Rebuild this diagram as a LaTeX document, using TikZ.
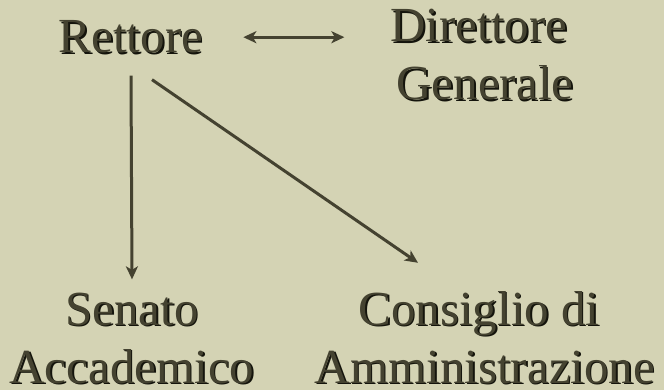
\documentclass[tikz,border=0pt]{standalone}
\usepackage{fontspec}
\setmainfont{Liberation Serif}
\usetikzlibrary{arrows.meta}

\definecolor{carta}{RGB}{212,211,180}
\definecolor{inchiostro}{RGB}{68,66,48}
\definecolor{ombra}{RGB}{20,20,12}

\tikzset{
  voce/.style={font=\fontsize{49}{58}\selectfont, align=center, anchor=base, inner sep=1pt, text=inchiostro},
  freccia/.style={-{Stealth[length=13pt,width=12pt,inset=3.5pt]}, line width=3pt, draw=inchiostro},
}

% text with a dark shadow behind it
\newcommand{\voce}[3]{%
  \node[voce, text=ombra] at ([shift={(1.5pt,-1.5pt)}]#2) {#3};
  \node[voce] (#1) at (#2) {#3};
}

\begin{document}
\begin{tikzpicture}[x=1pt, y=-1pt]
  % Paper background
  \fill[carta] (0,0) rectangle (664,390);
  \useasboundingbox (0,0) rectangle (664,390);

  % The four offices (base = last line)
  \voce{rett}{131,53}{Rettore}
  \voce{dir}{485,100}{Direttore\hspace*{12pt}\\Generale}
  \voce{sen}{132,383}{Senato\\Accademico}
  \voce{cons}{485,383}{Consiglio di\hspace*{12pt}\\Amministrazione}

  % Links between them
  \draw[freccia, {Stealth[length=13pt,width=12pt,inset=3.5pt]}-{Stealth[length=13pt,width=12pt,inset=3.5pt]}] ([xshift=39pt]rett.east) -- ([xshift=-45pt]dir.west |- rett.east);
  \draw[freccia] ([yshift=-21pt]rett.south) -- ([yshift=12pt]sen.north);
  \draw[freccia] ([shift={(21pt,-25pt)}]rett.south) -- ([shift={(-67pt,27pt)}]cons.north);
\end{tikzpicture}
\end{document}
